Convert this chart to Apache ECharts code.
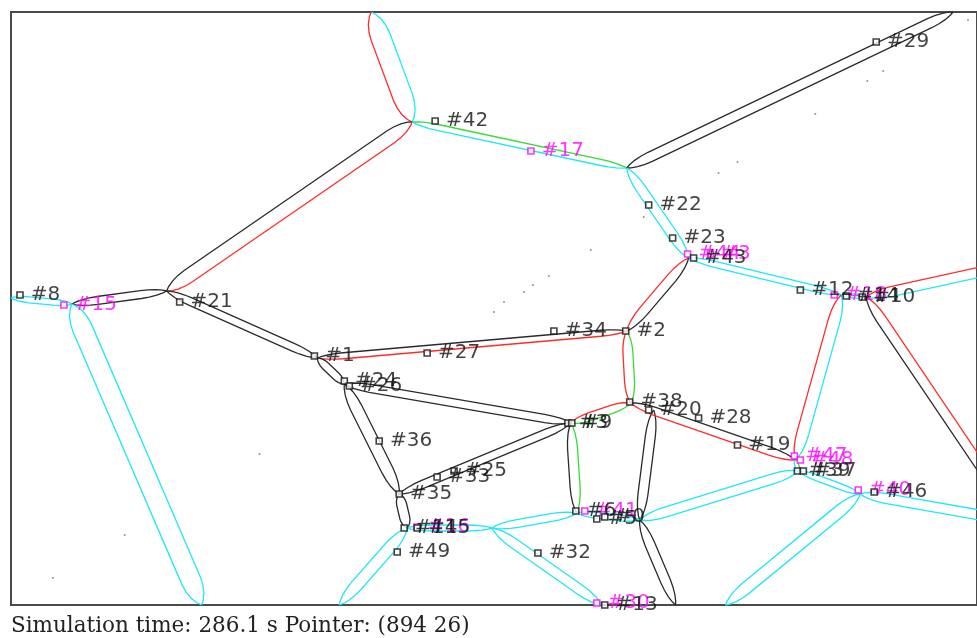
<!DOCTYPE html>
<html>
<head>
<meta charset="utf-8">
<style>
  html, body { margin: 0; padding: 0; background: #fff; }
  #main { width: 977px; height: 638px; }
</style>
<script src="https://cdn.jsdelivr.net/npm/echarts@6/dist/echarts.min.js"></script>
</head>
<body>
<div id="main"></div>
<script>
// map junctions (world coords, y grows downward)
const junctions = [
  ['T42', 372, 12], ['A', 413, 122], ['B', 628, 168], ['C', 955, 12],
  ['D', 167, 291], ['F', 72, 304], ['E', 11, 298], ['G', 202, 605],
  ['H', 318, 358], ['I', 628, 331], ['J', 690, 258], ['K', 843, 295],
  ['K2', 868, 297], ['L', 1010, 266], ['M', 1000, 492], ['R', 797, 460],
  ['S', 800, 471], ['T', 862, 494], ['U', 1010, 520], ['N', 345, 384],
  ['O', 572, 423], ['P', 632, 403], ['Q', 655, 410], ['V', 400, 494],
  ['W', 408, 528], ['Z', 493, 528], ['X', 578, 513], ['Y', 641, 520],
  ['BW', 340, 605], ['B13', 603, 605], ['BY', 677, 605], ['BT', 727, 605]
];

// roads: from, to, lane state on the left/up side, lane state on the other side
const roads = [
  ['T42', 'A', 'c', 'r'], ['D', 'A', 'k', 'r'], ['A', 'B', 'g', 'c'], ['B', 'C', 'k', 'k'],
  ['B', 'J', 'c', 'c'], ['J', 'K', 'c', 'c'], ['K', 'K2', 'c', 'c'], ['K2', 'L', 'r', 'c'],
  ['K2', 'M', 'r', 'k'], ['K', 'R', 'c', 'r'], ['E', 'F', 'c', 'c'], ['F', 'D', 'k', 'k'],
  ['F', 'G', 'c', 'c'], ['D', 'H', 'k', 'k'], ['H', 'I', 'k', 'r'], ['I', 'J', 'r', 'k'],
  ['I', 'P', 'g', 'r'], ['H', 'N', 'k', 'k'], ['N', 'O', 'k', 'k'], ['N', 'V', 'k', 'k'],
  ['V', 'O', 'k', 'k'], ['V', 'W', 'k', 'k'], ['W', 'Z', 'c', 'c'], ['W', 'BW', 'c', 'c'],
  ['Z', 'X', 'c', 'c'], ['Z', 'B13', 'c', 'c'], ['X', 'Y', 'c', 'c'], ['O', 'X', 'g', 'k'],
  ['O', 'P', 'r', 'g'], ['Q', 'Y', 'k', 'k'], ['P', 'R', 'k', 'r'], ['Y', 'BY', 'k', 'k'],
  ['Y', 'S', 'c', 'c'], ['R', 'S', 'g', 'c'], ['S', 'T', 'c', 'c'], ['T', 'U', 'c', 'c'],
  ['T', 'BT', 'c', 'c']
];

// hosts: label, x, y, group (k = black, m = magenta)
const hosts = [
  ['#42', 436, 121, 'k'], ['#29', 878, 42, 'k'], ['#22', 650, 205, 'k'], ['#23', 674, 238, 'k'],
  ['#43', 695, 258, 'k'], ['#8', 20, 295, 'k'], ['#21', 180, 302, 'k'], ['#1', 315, 356, 'k'],
  ['#27', 428, 353, 'k'], ['#34', 555, 331, 'k'], ['#2', 627, 331, 'k'], ['#24', 345, 381, 'k'],
  ['#26', 350, 386, 'k'], ['#36', 380, 441, 'k'], ['#33', 438, 477, 'k'], ['#25', 455, 471, 'k'],
  ['#35', 400, 494, 'k'], ['#11', 405, 528, 'k'], ['#45', 418, 528, 'k'], ['#49', 398, 552, 'k'],
  ['#32', 539, 553, 'k'], ['#3', 569, 423, 'k'], ['#9', 573, 423, 'k'], ['#38', 631, 402, 'k'],
  ['#20', 650, 410, 'k'], ['#28', 700, 418, 'k'], ['#19', 739, 445, 'k'], ['#39', 799, 471, 'k'],
  ['#37', 805, 471, 'k'], ['#46', 876, 492, 'k'], ['#12', 802, 290, 'k'], ['#14', 848, 296, 'k'],
  ['#10', 864, 297, 'k'], ['#6', 577, 511, 'k'], ['#5', 598, 519, 'k'], ['#0', 606, 517, 'k'],
  ['#13', 606, 605, 'k'],
  ['#17', 532, 151, 'm'], ['#15', 64, 305, 'm'], ['#44', 689, 254, 'm'], ['#3', 712, 254, 'm'],
  ['#47', 796, 456, 'm'], ['#48', 802, 460, 'm'], ['#40', 860, 490, 'm'], ['#18', 836, 295, 'm'],
  ['#41', 586, 511, 'm'], ['#30', 598, 603, 'm'], ['#16', 418, 527, 'm']
];

// small waypoint dots
const dots = [
  [970, 20], [885, 71], [869, 81], [817, 114], [739, 162], [720, 173], [645, 217],
  [592, 250], [550, 276], [534, 285], [525, 292], [505, 302], [495, 312],
  [260, 454], [125, 535], [53, 578]
];

const statusText = 'Simulation time: 286.1 s Pointer: (894 26)';

// lane spread (half width) for each road, same order as roads
const roadGap = [
  10, 7, 3, 5, 5, 3, 2, 5, 5, 6, 3, 4, 10, 4, 3, 5, 5, 4, 4, 6, 4, 5, 3, 6,
  4, 5, 3, 5, 4, 5, 4, 5, 5, 2, 3, 5, 6
];
const laneColor = { k: '#2b2b2b', r: '#ff2b2b', c: '#1ee8f6', g: '#36dc36' };

const jPos = {};
junctions.forEach((j) => (jPos[j[0]] = [j[1], j[2]]));

// one side of a road, bulging away from the centre line, tapering to the ends
function lanePath(p0, p1, off) {
  const dx = p1[0] - p0[0];
  const dy = p1[1] - p0[1];
  const len = Math.hypot(dx, dy);
  const ux = dx / len, uy = dy / len;
  const nx = uy, ny = -ux;
  const a = Math.min(len * 0.3, 26);
  const prof = [
    [0, 0], [a * 0.15, 0.35], [a * 0.4, 0.7], [a * 0.7, 0.92], [a, 1],
    [len - a, 1], [len - a * 0.7, 0.92], [len - a * 0.4, 0.7], [len - a * 0.15, 0.35], [len, 0]
  ];
  return prof.map(([s, f]) => [p0[0] + ux * s + nx * off * f, p0[1] + uy * s + ny * off * f]);
}

const laneLines = [];
roads.forEach((r, i) => {
  const p0 = jPos[r[0]], p1 = jPos[r[1]];
  laneLines.push({ coords: lanePath(p0, p1, roadGap[i]), lineStyle: { color: laneColor[r[2]] } });
  laneLines.push({ coords: lanePath(p0, p1, -roadGap[i]), lineStyle: { color: laneColor[r[3]] } });
});

function hostSeries(group, color, z) {
  return {
    type: 'scatter',
    z: z,
    silent: true,
    symbol: 'rect',
    symbolSize: 6,
    itemStyle: { color: '#fff', borderColor: color, borderWidth: 1.6 },
    label: {
      show: true,
      position: 'right',
      distance: 7,
      formatter: '{b}',
      color: color,
      fontFamily: 'DejaVu Sans',
      fontSize: 20
    },
    data: hosts.filter((h) => h[3] === group).map((h) => ({ name: h[0], value: [h[1], h[2]] }))
  };
}

var myChart = echarts.init(document.getElementById('main'));
var option = {
  animation: false,
  backgroundColor: '#fff',
  grid: {
    left: 11, top: 12, width: 968, height: 593,
    show: true, borderColor: '#4a4a4a', borderWidth: 2, backgroundColor: '#fff'
  },
  xAxis: { type: 'value', min: 11, max: 979, show: false },
  yAxis: { type: 'value', min: 12, max: 605, inverse: true, show: false },
  graphic: [
    {
      type: 'text', left: 11, top: 615,
      style: { text: statusText, font: '21.5px "DejaVu Serif"', fill: '#222' }
    }
  ],
  series: [
    {
      type: 'lines',
      coordinateSystem: 'cartesian2d',
      polyline: true,
      silent: true,
      z: 2,
      lineStyle: { width: 1.3, opacity: 1 },
      data: laneLines
    },
    {
      type: 'scatter',
      silent: true,
      z: 3,
      symbolSize: 2,
      itemStyle: { color: '#8a7d2a' },
      data: dots
    },
    hostSeries('m', '#ff00ff', 4),
    hostSeries('k', '#111', 5)
  ]
};
myChart.setOption(option);
</script>
</body>
</html>
